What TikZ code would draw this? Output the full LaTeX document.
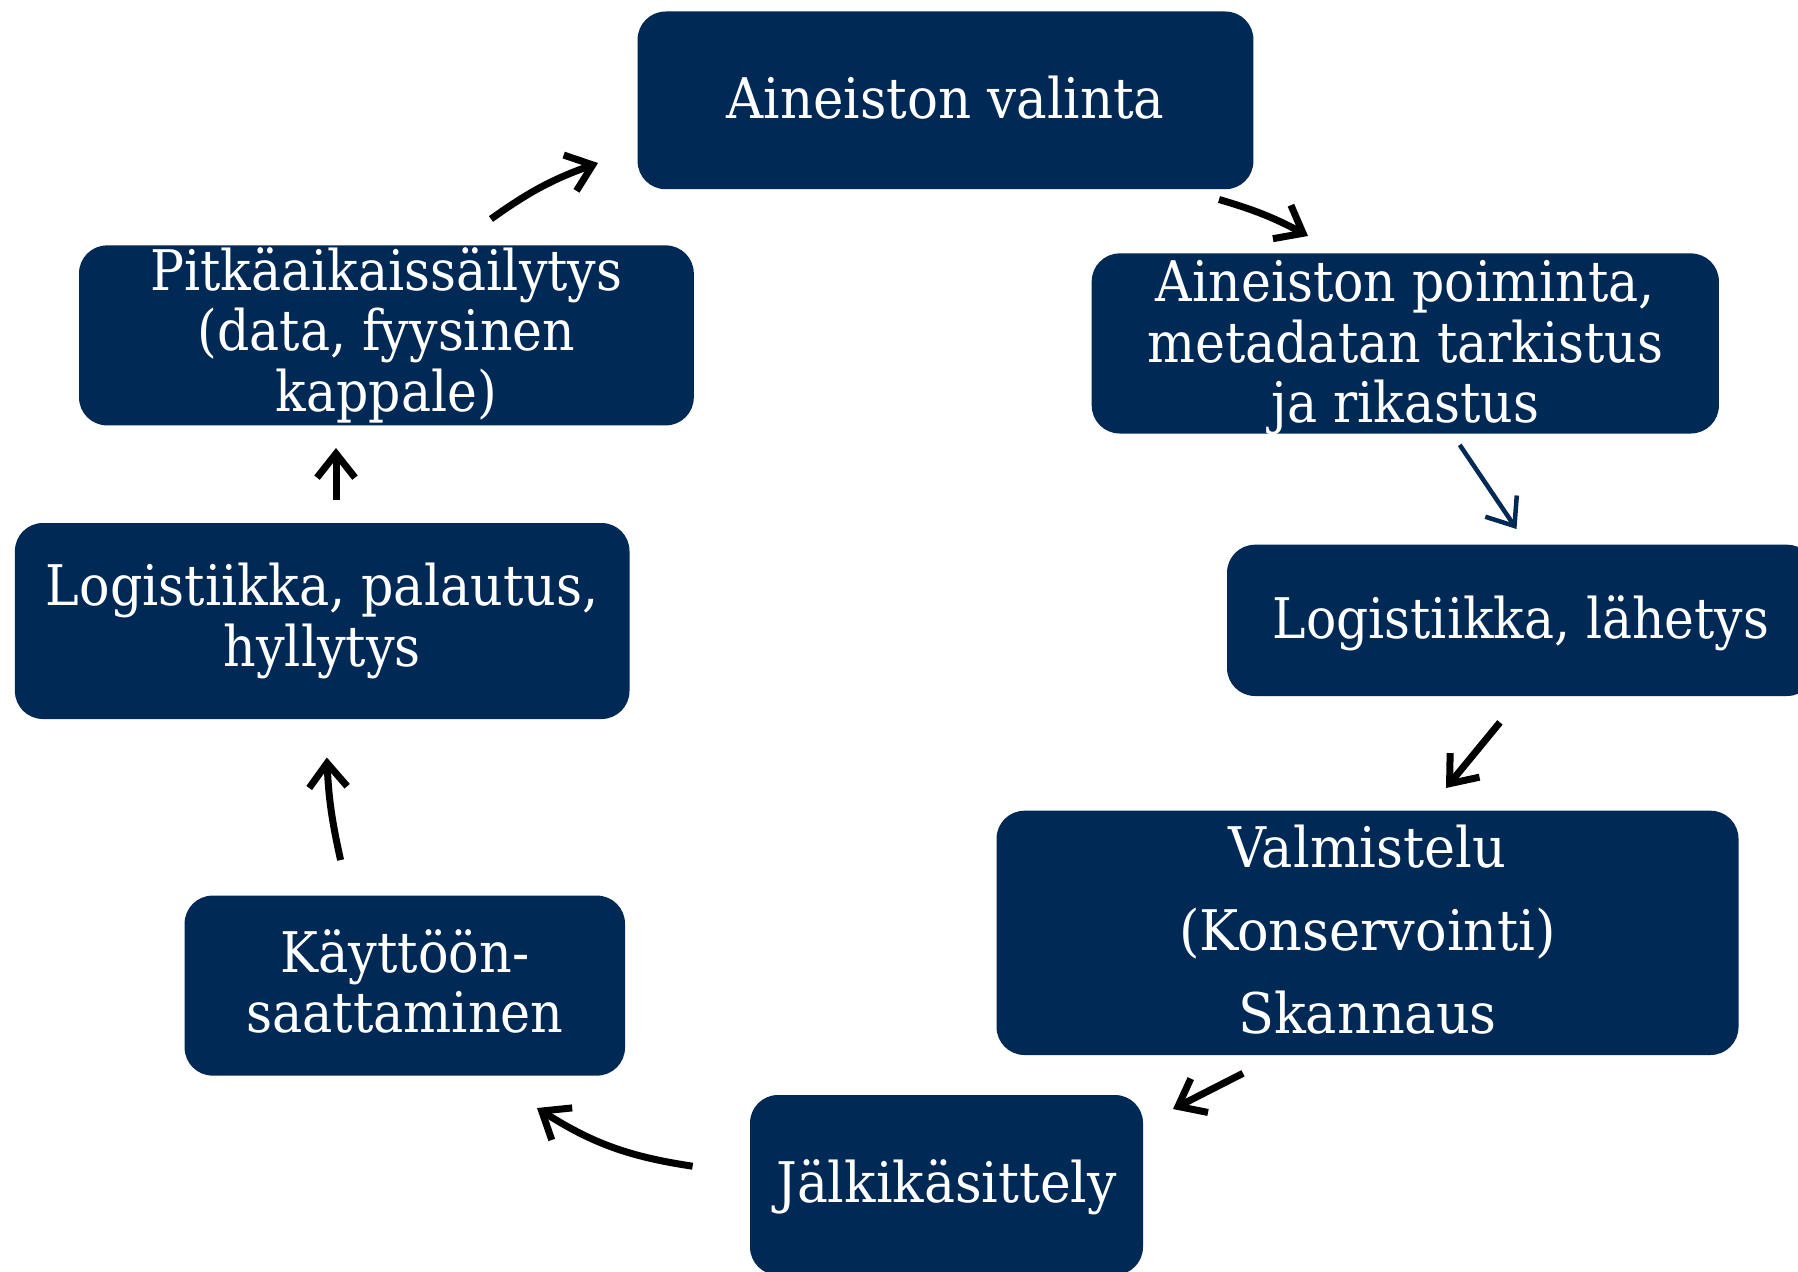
\documentclass[tikz,border=0pt]{standalone}
\usepackage{fontspec}
\setmainfont{DejaVu Serif}
\usetikzlibrary{arrows.meta}
\definecolor{navy}{RGB}{0,41,85}
\newcommand\fitlbl[4]{\resizebox{#1}{\height}{\fontsize{56}{#2}\selectfont\begin{tabular}[t]{@{}c@{}}#4\end{tabular}}}
\begin{document}
\begin{tikzpicture}[x=1pt,y=1pt,
  box/.style={fill=navy, rounded corners=28pt, inner sep=0pt, text=white},
  flow/.style={line width=7pt, -{Straight Barb[length=24pt,width=38pt]}},
]
\useasboundingbox[fill=white] (0,0) rectangle (1798,-1271);

\node[box, minimum width=615.8pt, minimum height=177.7pt, text height=35.3pt, text depth=0pt] (A) at (945.5,-100.35)
  {\fitlbl{438pt}{60}{}{Aineiston valinta}};
\node[box, minimum width=627.2pt, minimum height=180.1pt, text height=0pt, text depth=83.7pt] (B) at (1405.3,-343.45)
  {\fitlbl{516pt}{60}{}{Aineiston poiminta,\\ metadatan tarkistus\\ ja rikastus}};
\node[box, minimum width=588pt, minimum height=151.3pt, text height=36.7pt, text depth=0pt] (C) at (1521,-620.35)
  {\fitlbl{496.5pt}{60}{}{Logistiikka, lähetys}};
\node[box, minimum width=742pt, minimum height=244.3pt, text height=0pt, text depth=131.7pt] (D) at (1367.5,-932.85)
  {\fitlbl{377pt}{83}{}{Valmistelu\\ (Konservointi)\\ Skannaus}};
\node[box, minimum width=393pt, minimum height=180pt, text height=34pt, text depth=0pt] (E) at (946.5,-1185)
  {\fitlbl{340.6pt}{60}{}{Jälkikäsittely}};
\node[box, minimum width=440.4pt, minimum height=180pt, text height=0pt, text depth=27.2pt] (F) at (404.8,-985.6)
  {\fitlbl{317.6pt}{60}{}{Käyttöön-\\ saattaminen}};
\node[box, minimum width=614.6pt, minimum height=196pt, text height=0pt, text depth=31pt] (G) at (322.2,-621)
  {\fitlbl{552.7pt}{60}{}{Logistiikka, palautus,\\ hyllytys}};
\node[box, minimum width=614.8pt, minimum height=180pt, text height=0pt, text depth=90.8pt] (H) at (386.4,-335.4)
  {\fitlbl{472pt}{60}{}{Pitkäaikaissäilytys\\ (data, fyysinen\\ kappale)}};

\coordinate (a1s) at (1219,-199.5);   \coordinate (a1e) at (1308,-236);
\coordinate (a2s) at (1459.7,-444.9); \coordinate (a2e) at (1516.5,-529);
\coordinate (a3s) at (1499.9,-722.4); \coordinate (a3e) at (1446,-788);
\coordinate (a4s) at (1243,-1073.3);  \coordinate (a4e) at (1173,-1109);
\coordinate (a5s) at (692.6,-1166.2); \coordinate (a5e) at (537,-1108);
\coordinate (a6s) at (340.6,-860);    \coordinate (a6e) at (326.8,-757.5);
\coordinate (a7s) at (336,-500);      \coordinate (a7e) at (336,-448);
\coordinate (a8s) at (491,-219);      \coordinate (a8e) at (598,-163);

\draw[flow] (a1s) to[bend left=6] (a1e);
\draw[flow, draw=navy, line width=4.5pt] (a2s) -- (a2e);
\draw[flow] (a3s) -- (a3e);
\draw[flow] (a4s) -- (a4e);
\draw[flow] (a5s) to[bend left=12] (a5e);
\draw[flow] (a6s) to[bend left=5] (a6e);
\draw[flow] (a7s) -- (a7e);
\draw[flow] (a8s) to[bend left=8] (a8e);
\end{tikzpicture}
\end{document}
